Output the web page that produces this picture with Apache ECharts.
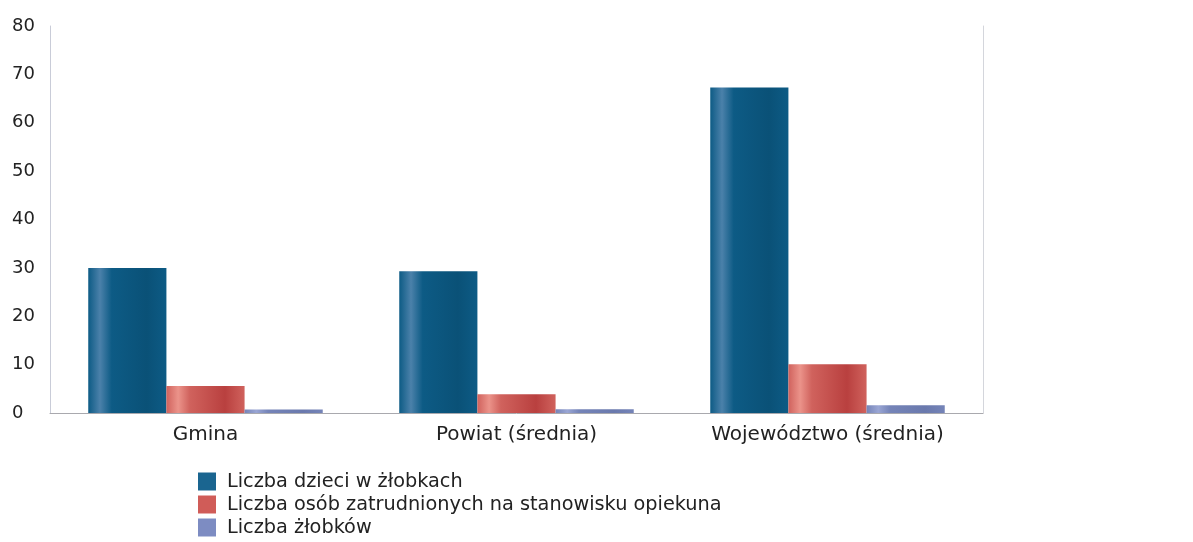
<!DOCTYPE html>
<html>
<head>
<meta charset="utf-8">
<script src="https://cdn.jsdelivr.net/npm/echarts@6/dist/echarts.min.js"></script>
<style>
  html, body { margin: 0; padding: 0; background: #fff; }
  #chart { width: 1193px; height: 542px; }
</style>
</head>
<body>
<div id="chart"></div>
<script>
var categories = ['Gmina', 'Powiat (średnia)', 'Województwo (średnia)'];
var seriesNames = ['Liczba dzieci w żłobkach', 'Liczba osób zatrudnionych na stanowisku opiekuna', 'Liczba żłobków'];
var dzieci = [30.0, 29.3, 67.3];
var opiekunowie = [5.6, 3.9, 10.1];
var zlobki = [0.7, 0.8, 1.6];
var yTicks = [0, 10, 20, 30, 40, 50, 60, 70, 80];

// cylindrical shading, light strip on the left
function shade(base, light, dark) {
  return new echarts.graphic.LinearGradient(0, 0, 1, 0, [
    { offset: 0, color: base },
    { offset: 0.15, color: light },
    { offset: 0.3, color: base },
    { offset: 0.75, color: dark },
    { offset: 1, color: base }
  ]);
}

var font = 'DejaVu Sans';
var chart = echarts.init(document.getElementById('chart'));
chart.setOption({
  animation: false,
  grid: { left: 50, right: 210, top: 26, bottom: 129, containLabel: false },
  legend: {
    orient: 'vertical',
    left: 198,
    top: 472,
    padding: 0,
    icon: 'rect',
    itemWidth: 18,
    itemHeight: 18,
    itemGap: 4,
    data: [
      { name: seriesNames[0], itemStyle: { color: '#1a6590' } },
      { name: seriesNames[1], itemStyle: { color: '#d05c58' } },
      { name: seriesNames[2], itemStyle: { color: '#7d8cc2' } }
    ],
    textStyle: { fontFamily: font, fontSize: 19.3, lineHeight: 18, color: '#222', padding: [0, 0, 0, 6] }
  },
  xAxis: {
    type: 'category',
    data: categories,
    axisLine: { lineStyle: { color: '#a9a9ae', width: 1 } },
    axisTick: { show: false },
    axisLabel: { fontFamily: font, fontSize: 20, color: '#222', margin: 12 }
  },
  yAxis: [
    {
      type: 'value',
      min: yTicks[0],
      max: yTicks[yTicks.length - 1],
      interval: 10,
      axisLine: { show: true, lineStyle: { color: '#c9ccd8' } },
      axisTick: { show: false },
      splitLine: { show: false },
      axisLabel: { fontFamily: font, fontSize: 18, color: '#222', align: 'left', margin: 38 }
    },
    {
      type: 'value',
      position: 'right',
      min: yTicks[0],
      max: yTicks[yTicks.length - 1],
      interval: 10,
      axisLine: { show: true, lineStyle: { color: '#d4d6dc' } },
      axisTick: { show: false },
      axisLabel: { show: false },
      splitLine: { show: false }
    }
  ],
  series: [
    {
      name: seriesNames[0], type: 'bar', data: dzieci,
      barGap: '0%', barCategoryGap: '24.6%',
      itemStyle: { color: shade('#0d5b85', '#4b81aa', '#0a5177') }
    },
    {
      name: seriesNames[1], type: 'bar', data: opiekunowie,
      itemStyle: { color: shade('#d0625d', '#eb938a', '#b9403f') }
    },
    {
      name: seriesNames[2], type: 'bar', data: zlobki,
      itemStyle: { color: shade('#7584b8', '#9aa6d4', '#6a79ad') }
    }
  ]
});
</script>
</body>
</html>
